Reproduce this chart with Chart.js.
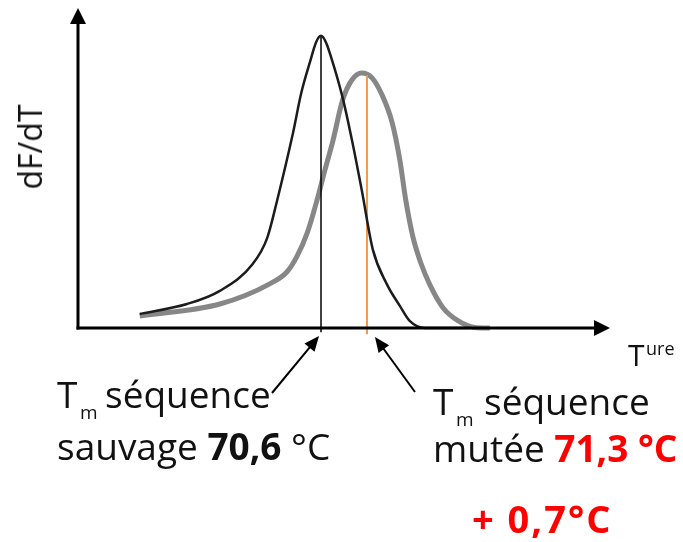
<!DOCTYPE html>
<html>
<head>
<meta charset="utf-8">
<script src="https://cdn.jsdelivr.net/npm/chart.js@4.4.1/dist/chart.umd.min.js"></script>
<style>
  html, body { margin: 0; padding: 0; background: #fff; }
  #wrap { position: relative; width: 683px; height: 542px; overflow: hidden; font-family: "Open Sans", sans-serif; color: #111; }
  #wrap canvas { position: absolute; left: 0; top: 0; }
  .t { position: absolute; white-space: nowrap; line-height: 1; font-size: 37px; }
  .sub { font-size: 19px; }
  .red { color: #ff0000; font-weight: bold; }
  #ylab { position: absolute; left: 30px; top: 147px; font-size: 32px; line-height: 1; white-space: nowrap;
          transform: translate(-50%, -50%) rotate(-90deg); }
</style>
</head>
<body>
<div id="wrap">
  <canvas id="chart" width="683" height="542"></canvas>
  <div id="ylab">dF/dT</div>
  <span class="t" style="left:628px; top:340px; font-size:30px;">T</span>
  <span class="t" style="left:646px; top:339px; font-size:18px;">ure</span>

  <span class="t" style="left:57px; top:375px;">T</span>
  <span class="t sub" style="left:80px; top:403px;">m</span>
  <span class="t" style="left:105px; top:375px;">séquence</span>
  <span class="t" style="left:57px; top:427px;">sauvage <b>70,6</b> °C</span>

  <span class="t" style="left:433px; top:382px;">T</span>
  <span class="t sub" style="left:456px; top:410px;">m</span>
  <span class="t" style="left:484px; top:382px;">séquence</span>
  <span class="t" style="left:433px; top:429px;">mutée <span class="red">71,3 °C</span></span>

  <span class="t red" style="left:472px; top:499px; font-size:38px; letter-spacing:2px;">+ 0,7°C</span>
</div>
<script>
// temperature (°C) and dF/dT (arbitrary units)
const tempWild = [67.84, 68.56, 69.06, 69.56, 69.78, 69.93, 70.17, 70.30, 70.43, 70.53, 70.60, 70.67, 70.74, 70.93, 71.07, 71.22, 71.39, 71.60, 71.80, 71.95, 72.18, 72.87];
const dfWild   = [4.4, 7.5, 11.6, 20.0, 28.1, 39.7, 60.6, 73.5, 83.0, 89.5, 91.3, 89.5, 85.5, 71.9, 58.8, 43.1, 24.4, 13.8, 6.9, 2.2, 0, 0];

const tempMut = [67.84, 69.06, 69.82, 70.08, 70.23, 70.39, 70.54, 70.66, 70.78, 70.93, 71.07, 71.22, 71.38, 71.53, 71.68, 71.80, 71.89, 72.00, 72.12, 72.26, 72.46, 72.69, 72.94, 73.17];
const dfMut   = [3.75, 7.5, 13.8, 17.5, 22.2, 29.7, 40.0, 49.4, 58.4, 71.3, 77.5, 79.7, 78.1, 72.8, 64.4, 52.5, 40.0, 28.4, 20.3, 13.4, 6.25, 2.2, 0.15, 0];

const tmWild = 70.6;
const tmMut = 71.3;
const tmWildTop = 91.3;
const tmMutTop = 79;

const xRange = [66.9, 75.0];
const yRange = [-2, 100];

const toPoints = (xs, ys) => xs.map((x, i) => ({ x: x, y: ys[i] }));

function arrowHead(ctx, fx, fy, tx, ty, len, half) {
  const a = Math.atan2(ty - fy, tx - fx);
  ctx.beginPath();
  ctx.moveTo(tx, ty);
  ctx.lineTo(tx - len * Math.cos(a) + half * Math.sin(a), ty - len * Math.sin(a) - half * Math.cos(a));
  ctx.lineTo(tx - len * Math.cos(a) - half * Math.sin(a), ty - len * Math.sin(a) + half * Math.cos(a));
  ctx.closePath();
  ctx.fill();
}

function arrow(ctx, fx, fy, tx, ty, width, len, half) {
  const a = Math.atan2(ty - fy, tx - fx);
  ctx.lineWidth = width;
  ctx.beginPath();
  ctx.moveTo(fx, fy);
  ctx.lineTo(tx - (len - 2) * Math.cos(a), ty - (len - 2) * Math.sin(a));
  ctx.stroke();
  arrowHead(ctx, fx, fy, tx, ty, len, half);
}

// soften the thick grey trace a little, like the scanned original
const softLine = {
  id: 'softLine',
  beforeDatasetDraw(chart, args) {
    if (args.index === 1) { chart.ctx.save(); chart.ctx.filter = 'blur(0.7px)'; }
  },
  afterDatasetDraw(chart, args) {
    if (args.index === 1) chart.ctx.restore();
  }
};

// hand-drawn style axes with arrows + annotation arrows
const axesArrows = {
  id: 'axesArrows',
  afterDatasetsDraw(chart) {
    const { ctx, chartArea, scales } = chart;
    const x0 = chartArea.left;
    const y0 = scales.y.getPixelForValue(0);
    ctx.save();
    ctx.strokeStyle = '#000';
    ctx.fillStyle = '#000';
    ctx.lineCap = 'butt';
    arrow(ctx, x0, y0 + 1.5, x0, chartArea.top, 3, 16, 8);
    arrow(ctx, x0 - 1.5, y0, chartArea.right, y0, 3, 16, 8);

    const xw = scales.x.getPixelForValue(tmWild);
    const xm = scales.x.getPixelForValue(tmMut);
    arrow(ctx, xw - 49, y0 + 65, xw - 2, y0 + 8, 2, 15, 6.5);
    arrow(ctx, xm + 48, y0 + 64, xm + 8, y0 + 9, 2, 15, 6.5);
    ctx.restore();
  }
};

new Chart(document.getElementById('chart'), {
  type: 'line',
  data: {
    datasets: [
      {
        label: 'sauvage',
        data: toPoints(tempWild, dfWild),
        borderColor: '#1c1c1c',
        borderWidth: 2.5,
        cubicInterpolationMode: 'monotone',
        pointRadius: 0,
        order: 1,
      },
      {
        label: 'mutée',
        data: toPoints(tempMut, dfMut),
        borderColor: '#878787',
        borderWidth: 5,
        cubicInterpolationMode: 'monotone',
        pointRadius: 0,
        order: 4,
      },
      {
        label: 'Tm sauvage',
        data: [{ x: tmWild, y: tmWildTop }, { x: tmWild, y: -1.3 }],
        borderColor: '#000',
        borderWidth: 1.5,
        pointRadius: 0,
        order: 2,
      },
      {
        label: 'Tm mutée',
        data: [{ x: tmMut, y: tmMutTop }, { x: tmMut, y: -2 }],
        borderColor: '#f29b4c',
        borderWidth: 2,
        pointRadius: 0,
        order: 3,
      },
    ],
  },
  options: {
    responsive: false,
    devicePixelRatio: 1,
    animation: false,
    layout: { padding: { left: 78, right: 73, top: 8, bottom: 207.6 } },
    plugins: {
      legend: { display: false },
      tooltip: { enabled: false },
    },
    scales: {
      x: { type: 'linear', min: xRange[0], max: xRange[1], display: false },
      y: { min: yRange[0], max: yRange[1], display: false },
    },
  },
  plugins: [softLine, axesArrows],
});
</script>
</body>
</html>
